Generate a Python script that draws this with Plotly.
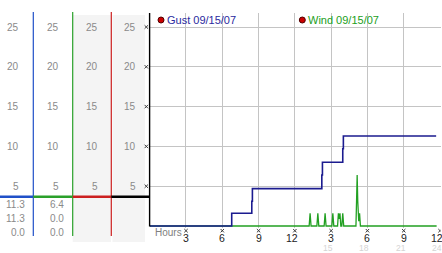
import plotly.graph_objects as go

# ---------------- data ----------------
gust_hours = [0, 6.78, 8.44, 8.49, 14.23, 14.28, 15.96, 16.01, 23.68]
gust_mph = [0, 1.6, 3.1, 4.7, 6.4, 8.0, 9.7, 11.3, 11.3]

wind_hours = [0, 13.18, 13.26, 13.34, 13.82, 13.90, 13.98, 14.42, 14.50, 14.58,
              15.06, 15.14, 15.22, 15.53, 15.60, 15.66, 15.73, 15.80,
              15.88, 15.96, 16.04, 17.05, 17.10, 17.15, 17.20, 17.28, 17.35, 17.42, 23.72]
wind_mph = [0, 0, 1.6, 0, 0, 1.6, 0, 0, 1.6, 0,
            0, 1.6, 0, 0, 1.6, 0.9, 1.6, 0,
            0, 1.6, 0, 0, 3.1, 6.4, 3.1, 0.6, 1.6, 0, 0]

y_ticks = [5, 10, 15, 20, 25]
x_ticks = [3, 6, 9, 12, 15, 18, 21, 24]
x_tick_labels = ["3", "6", "9", "12", "3", "6", "9", "12"]
x_tick_sub = ["", "", "", "", "15", "18", "21", "24"]

gust_stats = ["11.3", "11.3", "0.0"]
wind_stats = ["6.4", "0.0", "0.0"]
gust_label = "Gust 09/15/07"
wind_label = "Wind 09/15/07"
x_title = "Hours"

# ---------------- geometry helpers ----------------
W, H = 442, 253
def px(x):
    return x / W
def py(y):
    return 1 - y / H

FONT = "Liberation Sans, Arial, sans-serif"
GUST_C = "#1b1b8f"
WIND_C = "#22a022"
LBL_C = "#8a8a8a"

x0_px, x1_px = 149.7, 440.5
x_max = 24.04
y_px_per_unit = 7.96
y_zero_px = 226.0
y_top_px = 13.0
y_min = -0.2
y_max = (y_zero_px - y_top_px) / y_px_per_unit
y_bot_px = y_zero_px - y_min * y_px_per_unit

fig = go.Figure()
fig.add_trace(go.Scatter(x=wind_hours, y=wind_mph, mode="lines",
                         line=dict(color=WIND_C, width=1.3), showlegend=False,
                         hoverinfo="skip"))
fig.add_trace(go.Scatter(x=gust_hours, y=gust_mph, mode="lines",
                         line=dict(color=GUST_C, width=1.6, shape="hv"),
                         showlegend=False, hoverinfo="skip"))

shapes = []
annotations = []

# left panel backgrounds
shapes.append(dict(type="rect", xref="paper", yref="paper", x0=px(72.7), x1=px(111),
                   y0=py(242), y1=py(15), fillcolor="#f4f4f4", line=dict(width=0),
                   layer="below"))
shapes.append(dict(type="rect", xref="paper", yref="paper", x0=px(112.5), x1=px(145),
                   y0=py(242), y1=py(15), fillcolor="#f4f4f4", line=dict(width=0),
                   layer="below"))

# vertical column lines
for xv, c in [(33.3, "#2050c8"), (72.7, "#2aa02a"), (111.3, "#cc2020")]:
    shapes.append(dict(type="line", xref="paper", yref="paper", x0=px(xv), x1=px(xv),
                       y0=py(236), y1=py(12), line=dict(color=c, width=1.2)))

# horizontal coloured bar
for xa, xb, c in [(0, 33.3, "#2050c8"), (33.3, 72.7, "#2aa02a"),
                  (72.7, 111.3, "#cc2020"), (111.3, 149.5, "#000000")]:
    shapes.append(dict(type="line", xref="paper", yref="paper", x0=px(xa), x1=px(xb),
                       y0=py(196.7), y1=py(196.7), line=dict(color=c, width=2.5)))

# y-axis black line
shapes.append(dict(type="line", xref="paper", yref="paper", x0=px(149.6), x1=px(149.6),
                   y0=py(226.5), y1=py(13), line=dict(color="#000000", width=1.4)))

# tick cross marks
XS = 1.7
XL = dict(color="#3a3a3a", width=1)
for t in y_ticks:
    for s in (1, -1):
        shapes.append(dict(type="line", xref="paper", yref="y", ysizemode="pixel", yanchor=t,
                           x0=px(146.3 - XS), x1=px(146.3 + XS), y0=-XS * s, y1=XS * s,
                           line=XL))
for xt in x_ticks:
    for s in (1, -1):
        shapes.append(dict(type="line", xref="x", yref="paper", xsizemode="pixel", xanchor=xt,
                           x0=-XS, x1=XS, y0=py(230.7 - XS * s), y1=py(230.7 + XS * s),
                           line=XL))

# column y labels
col_right = [20.5, 60.5, 99.5, 138]
for cx in col_right:
    for t in y_ticks:
        annotations.append(dict(x=px(cx), y=t, xref="paper", yref="y", text=str(t),
                                showarrow=False, xanchor="right", yanchor="middle",
                                font=dict(family=FONT, size=10, color=LBL_C)))

# stats rows
row_y = [204.5, 218.5, 232.5]
for vals, cx in [(gust_stats, 27), (wind_stats, 66)]:
    for v, ry in zip(vals, row_y):
        annotations.append(dict(x=px(cx), y=py(ry), xref="paper", yref="paper", text=v,
                                showarrow=False, xanchor="right", yanchor="middle",
                                font=dict(family=FONT, size=10, color=LBL_C)))

# x tick labels
for xt, lab, sub in zip(x_ticks, x_tick_labels, x_tick_sub):
    shift = -3 if len(lab) > 1 else 0
    annotations.append(dict(x=xt, y=py(237.8), xref="x", yref="paper", text=lab,
                            showarrow=False, xanchor="center", yanchor="middle",
                            xshift=shift,
                            font=dict(family=FONT, size=10.5, color="#222222")))
    if sub:
        annotations.append(dict(x=xt, y=py(248.3), xref="x", yref="paper", text=sub,
                                showarrow=False, xanchor="center", yanchor="middle",
                                xshift=-3,
                                font=dict(family=FONT, size=8.5, color="#d4d4d4")))
annotations.append(dict(x=px(152.5), y=py(232.5), xref="paper", yref="paper", text=x_title,
                        showarrow=False, xanchor="left", yanchor="middle",
                        font=dict(family=FONT, size=10, color="#808080")))

# legend (dots + text)
for dx, lab, c in [(161, gust_label, "#2a2aa0"), (302.3, wind_label, WIND_C)]:
    shapes.append(dict(type="circle", xref="paper", yref="paper",
                       x0=px(dx - 3), x1=px(dx + 3), y0=py(23), y1=py(17),
                       fillcolor="#cc0000", line=dict(color="#500000", width=1)))
    annotations.append(dict(x=px(dx + 4), y=py(20), xref="paper", yref="paper", text=lab,
                            showarrow=False, xanchor="left", yanchor="middle",
                            font=dict(family=FONT, size=11, color=c)))

fig.update_layout(
    width=W, height=H,
    margin=dict(l=0, r=0, t=0, b=0),
    paper_bgcolor="white", plot_bgcolor="white",
    shapes=shapes, annotations=annotations,
    xaxis=dict(domain=[px(x0_px), px(x1_px)], range=[0, x_max], tickvals=x_ticks,
               showticklabels=False, showgrid=True, gridcolor="#c4c4c4", gridwidth=1,
               zeroline=False, showline=False, ticks=""),
    yaxis=dict(domain=[py(y_bot_px), py(y_top_px)], range=[y_min, y_max], tickvals=y_ticks,
               showticklabels=False, showgrid=True, gridcolor="#c4c4c4", gridwidth=1,
               zeroline=False, showline=False, ticks=""),
)

fig.write_html("out.html")
